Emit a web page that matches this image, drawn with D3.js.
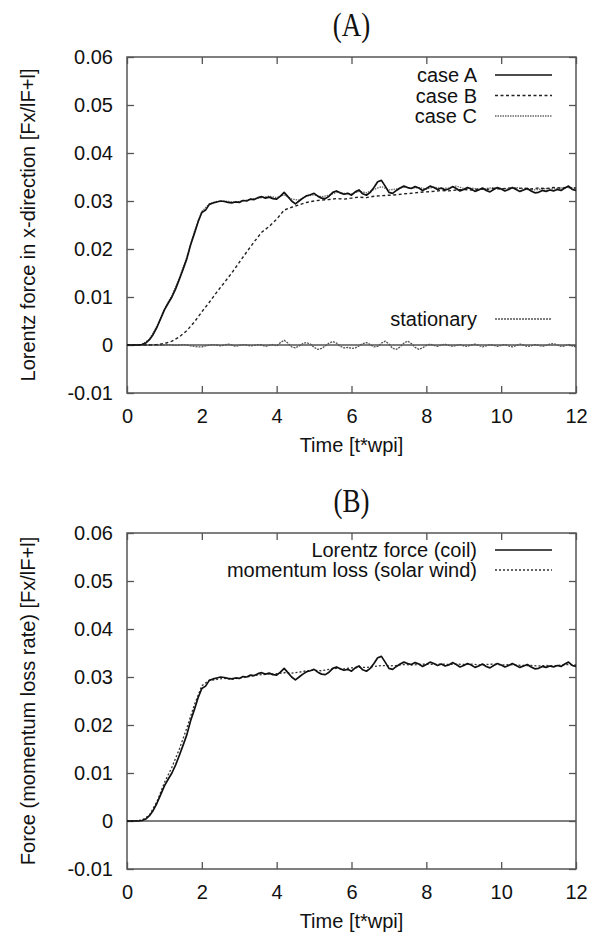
<!DOCTYPE html>
<html><head><meta charset="utf-8">
<script src="https://cdn.jsdelivr.net/npm/d3@7"></script>
<style>html,body{margin:0;padding:0;background:#fff}svg{display:block}</style>
</head><body>
<svg id="chart" width="611" height="934"></svg>
<script>
// ---------------- data ----------------
const xTicks = [0, 2, 4, 6, 8, 10, 12];
const yTicks = [-0.01, 0, 0.01, 0.02, 0.03, 0.04, 0.05, 0.06];
const yTickLabels = ["-0.01", "0", "0.01", "0.02", "0.03", "0.04", "0.05", "0.06"];
const fineStep = 0.1;   // sampling interval of the fine series
const coarseStep = 0.2; // sampling interval of the coarse series

// case A, sampled every 0.1
const caseA = [0,0,0,0,0.0001,0.0004,0.0011,0.0022,0.0037,0.0055,
0.0073,0.0087,0.0100,0.0117,0.0137,0.0158,0.0180,0.0209,0.0232,0.0257,
0.0276,0.0281,0.0293,0.0296,0.0298,0.0300,0.0299,0.0297,0.0296,0.0298,
0.0297,0.0301,0.0300,0.0304,0.0303,0.0307,0.0309,0.0306,0.0308,0.0305,
0.0304,0.0310,0.0318,0.0309,0.0300,0.0294,0.0300,0.0306,0.0311,0.0313,
0.0316,0.0310,0.0306,0.0305,0.0310,0.0318,0.0321,0.0317,0.0314,0.0316,
0.0312,0.0319,0.0323,0.0315,0.0312,0.0318,0.0328,0.0340,0.0343,0.0331,
0.0318,0.0316,0.0322,0.0327,0.0331,0.0328,0.0326,0.0330,0.0327,0.0322,
0.0326,0.0331,0.0328,0.0324,0.0327,0.0323,0.0325,0.0330,0.0326,0.0321,
0.0324,0.0328,0.0325,0.0320,0.0323,0.0327,0.0322,0.0319,0.0324,0.0328,
0.0325,0.0321,0.0324,0.0328,0.0324,0.0320,0.0323,0.0326,0.0321,0.0317,
0.0318,0.0322,0.0320,0.0323,0.0321,0.0324,0.0322,0.0327,0.0331,0.0324,
0.0322];

// case B, sampled every 0.2
const caseB = [0,0,0,0,0.0001,0.0003,0.0008,0.0017,0.0030,0.0048,
0.0069,0.0089,0.0110,0.0130,0.0150,0.0172,0.0194,0.0215,0.0235,0.0247,
0.0262,0.0281,0.0287,0.0292,0.0297,0.0300,0.0302,0.0303,0.0305,0.0304,
0.0306,0.0308,0.0307,0.0310,0.0311,0.0312,0.0313,0.0315,0.0316,0.0318,
0.0319,0.0320,0.0322,0.0321,0.0323,0.0324,0.0323,0.0325,0.0324,0.0326,
0.0325,0.0327,0.0326,0.0327,0.0325,0.0327,0.0326,0.0328,0.0327,0.0328,
0.0327];

// case C, sampled every 0.2
const caseC = [0,0,0.0001,0.0012,0.0039,0.0075,0.0103,0.0140,0.0183,0.0236,
0.0278,0.0294,0.0299,0.0300,0.0298,0.0299,0.0302,0.0305,0.0307,0.0310,
0.0307,0.0313,0.0304,0.0302,0.0310,0.0313,0.0309,0.0312,0.0318,0.0316,
0.0315,0.0320,0.0317,0.0324,0.0330,0.0323,0.0325,0.0329,0.0327,0.0328,
0.0325,0.0329,0.0326,0.0327,0.0331,0.0326,0.0327,0.0324,0.0326,0.0328,
0.0326,0.0325,0.0328,0.0325,0.0323,0.0324,0.0326,0.0325,0.0327,0.0329,
0.0326];

// stationary, sampled every 0.1
const stationary = [0,0,0,0,0,0,0,0.0001,0,-0.0001,
0,0.0001,0,-0.0001,0,0.0001,0,-0.0002,-0.0003,-0.0004,
-0.0004,-0.0002,0,0.0001,0,-0.0002,0,0.0002,0,-0.0003,
-0.0001,0.0001,0,-0.0002,-0.0001,0.0001,0,-0.0003,-0.0001,0.0001,
-0.0002,0.0005,0.0010,0.0004,-0.0004,-0.0006,-0.0002,0.0003,0.0005,0.0002,
-0.0005,-0.0009,-0.0007,-0.0002,0.0004,0.0007,0.0004,-0.0003,-0.0006,-0.0005,
-0.0007,-0.0006,-0.0002,0.0003,0.0005,0.0001,-0.0004,-0.0003,0.0004,0.0008,
0.0002,-0.0007,-0.0009,-0.0004,0.0004,0.0008,0.0003,-0.0005,-0.0009,-0.0006,
-0.0001,0.0002,-0.0001,-0.0003,0,0.0002,-0.0001,-0.0003,-0.0001,0.0001,
-0.0002,-0.0003,0,0.0002,-0.0001,-0.0004,-0.0002,0.0001,-0.0001,-0.0003,
-0.0001,0.0001,-0.0002,-0.0004,-0.0001,0.0002,0,-0.0003,-0.0002,0.0001,
-0.0001,-0.0003,-0.0001,0.0002,0.0003,0,-0.0003,-0.0002,0.0001,-0.0002,
-0.0004];

// panel B: Lorentz force (coil), sampled every 0.1 (same run as case A)
const lorentzCoil = caseA.slice();
// panel B: momentum loss (solar wind), sampled every 0.2
const momentumLoss = [0,0,0.0002,0.0012,0.0040,0.0080,0.0112,0.0150,0.0194,0.0242,
0.0282,0.0293,0.0295,0.0297,0.0295,0.0298,0.0300,0.0303,0.0305,0.0306,
0.0307,0.0309,0.0308,0.0310,0.0313,0.0314,0.0313,0.0316,0.0318,0.0317,
0.0319,0.0320,0.0320,0.0322,0.0324,0.0323,0.0324,0.0326,0.0325,0.0326,
0.0327,0.0326,0.0327,0.0326,0.0327,0.0326,0.0327,0.0325,0.0326,0.0327,
0.0325,0.0326,0.0325,0.0324,0.0324,0.0323,0.0324,0.0323,0.0325,0.0326,
0.0325];

const panels = [
  { title: "(A)", ylabel: "Lorentz force in x-direction [Fx/lF+l]", top: 57,
    series: [
      { name: "case A", values: caseA, step: fineStep, color: "#111", width: 1.7, dash: null },
      { name: "case B", values: caseB, step: coarseStep, color: "#222", width: 1.4, dash: "3,2.5" },
      { name: "case C", values: caseC, step: coarseStep, color: "#666", width: 1.3, dash: "1.5,1" },
      { name: "stationary", values: stationary, step: fineStep, color: "#555", width: 1.3, dash: "2,1" }
    ],
    legend: [ {i:0, y:75}, {i:1, y:95.5}, {i:2, y:116}, {i:3, y:319} ] },
  { title: "(B)", ylabel: "Force (momentum loss rate) [Fx/lF+l]", top: 533,
    series: [
      { name: "Lorentz force (coil)", values: lorentzCoil, step: fineStep, color: "#111", width: 1.7, dash: null },
      { name: "momentum loss (solar wind)", values: momentumLoss, step: coarseStep, color: "#333", width: 1.3, dash: "2,2" }
    ],
    legend: [ {i:0, y:550}, {i:1, y:570} ] }
];

// ---------------- drawing ----------------
const svg = d3.select("#chart");
const left = 127, right = 576, plotH = 336;
const font = "'Liberation Sans', Arial, Helvetica, sans-serif";
const x = d3.scaleLinear().domain([0, 12]).range([left, right]);

panels.forEach(p => {
  const top = p.top, bottom = top + plotH;
  const y = d3.scaleLinear().domain([-0.01, 0.06]).range([bottom, top]);
  const g = svg.append("g");

  // title
  g.append("text").attr("transform", `translate(${(left+right)/2},${top-21}) scale(0.82,1)`)
    .attr("text-anchor", "middle").attr("font-family", "'Liberation Serif', 'Times New Roman', serif")
    .attr("font-size", 33).attr("fill", "#111").text(p.title);

  // axes with inward ticks
  const axL = d3.axisLeft(y).tickValues(yTicks).tickSize(-7).tickFormat((d,i) => yTickLabels[i]).tickPadding(14);
  const axR = d3.axisRight(y).tickValues(yTicks).tickSize(-7).tickFormat("");
  const axB = d3.axisBottom(x).tickValues(xTicks).tickSize(-7).tickFormat(d3.format("d")).tickPadding(16);
  const axT = d3.axisTop(x).tickValues(xTicks).tickSize(-7).tickFormat("");
  [[axL, `translate(${left},0)`], [axR, `translate(${right},0)`],
   [axB, `translate(0,${bottom})`], [axT, `translate(0,${top})`]].forEach(([ax, tr]) => {
    const a = g.append("g").attr("transform", tr).call(ax);
    a.select(".domain").remove();
    a.selectAll("line").attr("stroke", "#555").attr("stroke-width", 1.3);
    a.selectAll("text").attr("font-family", font).attr("font-size", 20).attr("fill", "#111");
  });
  // border
  g.append("rect").attr("x", left).attr("y", top).attr("width", right-left).attr("height", plotH)
    .attr("fill", "none").attr("stroke", "#555").attr("stroke-width", 1.5);

  // zero line
  g.append("line").attr("x1", left).attr("x2", right).attr("y1", y(0)).attr("y2", y(0))
    .attr("stroke", "#555").attr("stroke-width", 1.3);

  // series
  const line = d3.line().x(d => x(d[0])).y(d => y(d[1])).curve(d3.curveLinear);
  p.series.slice().reverse().forEach(s => {
    const pts = s.values.map((v, i) => [i * s.step, v]);
    g.append("path").datum(pts).attr("d", line).attr("fill", "none")
      .attr("stroke", s.color).attr("stroke-width", s.width)
      .attr("stroke-dasharray", s.dash).attr("stroke-linejoin", "round");
  });

  // legend
  p.legend.forEach(l => {
    const s = p.series[l.i];
    g.append("text").attr("x", 477).attr("y", l.y).attr("dy", "0.35em").attr("text-anchor", "end")
      .attr("font-family", font).attr("font-size", 20).attr("fill", "#111").text(s.name);
    g.append("line").attr("x1", 495).attr("x2", 552).attr("y1", l.y).attr("y2", l.y)
      .attr("stroke", s.color).attr("stroke-width", s.width).attr("stroke-dasharray", s.dash);
  });

  // axis labels
  g.append("text").attr("x", (left+right)/2).attr("y", bottom + 52).attr("dy", "0.35em")
    .attr("text-anchor", "middle").attr("font-family", font).attr("font-size", 20).attr("fill", "#111")
    .text("Time [t*wpi]");
  g.append("text").attr("transform", `translate(28,${(top+bottom)/2}) rotate(-90)`)
    .attr("dy", "0.35em").attr("text-anchor", "middle").attr("font-family", font)
    .attr("font-size", 20).attr("fill", "#111").text(p.ylabel);
});
</script>
</body></html>
